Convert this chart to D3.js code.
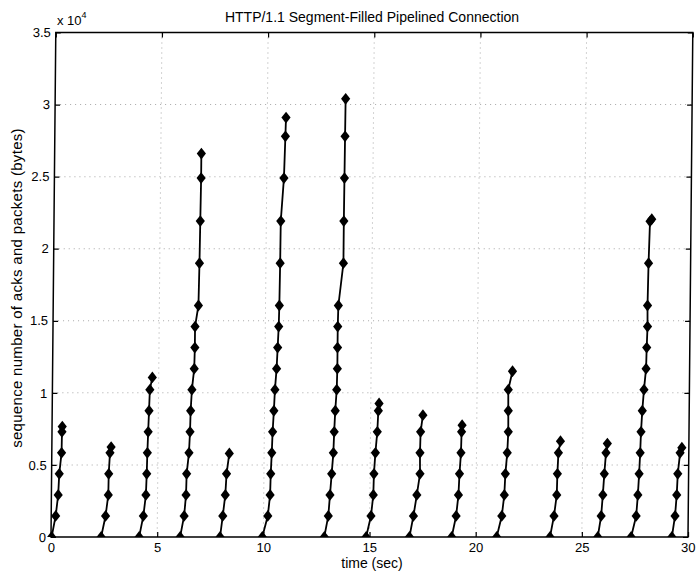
<!DOCTYPE html>
<html>
<head>
<meta charset="utf-8">
<script src="https://cdn.jsdelivr.net/npm/d3@7"></script>
<style>
  html, body { margin: 0; padding: 0; background: #fff; }
  svg { display: block; }
  text { font-family: "Liberation Sans", Arial, Helvetica, sans-serif; fill: #000; }
</style>
</head>
<body>
<svg id="chart" width="696" height="571"></svg>
<script>
// ---- data (time in seconds, sequence number in bytes), one entry per burst ----
const burstTimes = [
  [0.03, 0.21, 0.32, 0.36, 0.46, 0.47, 0.48],
  [2.36, 2.56, 2.68, 2.69, 2.74, 2.79],
  [4.15, 4.34, 4.45, 4.48, 4.50, 4.53, 4.56, 4.59, 4.70],
  [6.08, 6.26, 6.34, 6.36, 6.46, 6.50, 6.52, 6.57, 6.67, 6.69, 6.69, 6.84, 6.87, 6.89, 6.91, 6.91],
  [7.96, 8.08, 8.19, 8.24, 8.36],
  [9.95, 10.20, 10.30, 10.32, 10.36, 10.39, 10.44, 10.48, 10.55, 10.59, 10.63, 10.65, 10.67, 10.68, 10.81, 10.86, 10.88],
  [12.87, 13.05, 13.12, 13.19, 13.26, 13.29, 13.33, 13.39, 13.41, 13.41, 13.41, 13.43, 13.65, 13.65, 13.66, 13.67, 13.68],
  [14.84, 15.06, 15.16, 15.18, 15.24, 15.32, 15.36, 15.39],
  [16.88, 17.06, 17.21, 17.35, 17.34, 17.36, 17.46],
  [18.87, 19.07, 19.17, 19.21, 19.27, 19.29, 19.31],
  [20.99, 21.22, 21.33, 21.37, 21.45, 21.49, 21.48, 21.47, 21.66],
  [23.50, 23.68, 23.80, 23.82, 23.86, 23.95],
  [25.75, 25.90, 25.97, 26.03, 26.10, 26.16],
  [27.32, 27.55, 27.62, 27.67, 27.71, 27.74, 27.79, 27.86, 27.95, 27.97, 28.00, 27.99, 28.02, 28.07, 28.15],
  [29.24, 29.38, 29.45, 29.49, 29.59, 29.67]
];
const burstSeqs = [
  [0, 1460, 2920, 4380, 5840, 7300, 7660],
  [0, 1460, 2920, 4380, 5840, 6240],
  [0, 1460, 2920, 4380, 5840, 7300, 8760, 10220, 11070],
  [0, 1460, 2920, 4380, 5840, 7300, 8760, 10220, 11680, 13140, 14600, 16060, 19000, 21920, 24900, 26600],
  [0, 1460, 2920, 4380, 5800],
  [0, 1460, 2920, 4380, 5840, 7300, 8760, 10220, 11680, 13140, 14600, 16060, 19000, 21920, 24900, 27800, 29100],
  [0, 1460, 2920, 4380, 5840, 7300, 8760, 10220, 11680, 13140, 14600, 16060, 19000, 21920, 24900, 27800, 30400],
  [0, 1460, 2920, 4380, 5840, 7300, 8760, 9260],
  [0, 1460, 2920, 4380, 5840, 7300, 8450],
  [0, 1460, 2920, 4380, 5840, 7300, 7760],
  [0, 1460, 2920, 4380, 5840, 7300, 8760, 10220, 11500],
  [0, 1460, 2920, 4380, 5840, 6650],
  [0, 1460, 2920, 4380, 5840, 6480],
  [0, 1460, 2920, 4380, 5840, 7300, 8760, 10220, 11680, 13140, 14600, 16060, 19000, 21900, 22050],
  [0, 1460, 2920, 4380, 5840, 6200]
];
const xTicks = [0, 5, 10, 15, 20, 25, 30];
const xTickLabels = ["0", "5", "10", "15", "20", "25", "30"];
const yTicks = [0, 5000, 10000, 15000, 20000, 25000, 30000, 35000];
const yTickLabels = ["0", "0.5", "1", "1.5", "2", "2.5", "3", "3.5"];
const titleText = "HTTP/1.1 Segment-Filled Pipelined Connection";
const xLabelText = "time (sec)";
const yLabelText = "sequence number of acks and packets (bytes)";

// ---- layout ----
const plotLeft = 51, plotRight = 688, plotTop = 32.5, plotBottom = 537;
const x = d3.scaleLinear().domain([0, 30]).range([plotLeft, plotRight]);
const y = d3.scaleLinear().domain([0, 35000]).range([plotBottom, plotTop]);

const svg = d3.select("#chart");
svg.append("rect").attr("width", 696).attr("height", 571).attr("fill", "#fff");

// the scanned figure is slightly sheared: its top edge sits a few px to the right
const shear = -Math.atan(0.0095) * 180 / Math.PI;
const g = svg.append("g")
  .attr("transform", `translate(0,${plotBottom}) skewX(${shear}) translate(0,${-plotBottom})`);

svg.append("defs").append("clipPath").attr("id", "plotclip")
  .append("rect").attr("x", 0).attr("y", 0).attr("width", 696).attr("height", plotBottom);

// grid (dotted)
const grid = g.append("g").attr("stroke", "#555").attr("stroke-width", 1)
  .attr("stroke-dasharray", "1,4").attr("opacity", 0.5);
grid.selectAll("line.gx").data(xTicks.slice(1, -1)).join("line")
  .attr("x1", d => x(d)).attr("x2", d => x(d)).attr("y1", plotTop).attr("y2", plotBottom);
grid.selectAll("line.gy").data(yTicks.slice(1, -1)).join("line")
  .attr("x1", plotLeft).attr("x2", plotRight).attr("y1", d => y(d)).attr("y2", d => y(d));

// axes with inward ticks
const tickLen = 5;
const axB = g.append("g").attr("transform", `translate(0,${plotBottom})`)
  .call(d3.axisBottom(x).tickValues(xTicks).tickSize(-tickLen).tickPadding(6)
    .tickFormat((d, i) => xTickLabels[i]));
const axT = g.append("g").attr("transform", `translate(0,${plotTop})`)
  .call(d3.axisTop(x).tickValues(xTicks).tickSize(-tickLen).tickFormat(""));
const axL = g.append("g").attr("transform", `translate(${plotLeft},0)`)
  .call(d3.axisLeft(y).tickValues(yTicks).tickSize(-tickLen).tickPadding(5)
    .tickFormat((d, i) => yTickLabels[i]));
const axR = g.append("g").attr("transform", `translate(${plotRight},0)`)
  .call(d3.axisRight(y).tickValues(yTicks).tickSize(-tickLen).tickFormat(""));
[axB, axT, axL, axR].forEach(a => {
  a.select(".domain").remove();
  a.selectAll(".tick line").attr("stroke", "#000").attr("stroke-width", 1.2);
  a.selectAll(".tick text").style("font-size", "13px").attr("fill", "#000");
});
// box
g.append("rect").attr("x", plotLeft).attr("y", plotTop)
  .attr("width", plotRight - plotLeft).attr("height", plotBottom - plotTop)
  .attr("fill", "none").attr("stroke", "#000").attr("stroke-width", 1.5);

// bursts
const marks = g.append("g").attr("clip-path", "url(#plotclip)");
const line = d3.line().x(d => x(d[0])).y(d => y(d[1]));
const diamond = "M0,-5.9L4.6,0L0,5.9L-4.6,0Z";
burstTimes.forEach((ts, bi) => {
  const pts = ts.map((t, i) => [t, burstSeqs[bi][i]]);
  marks.append("path").datum(pts).attr("d", line)
    .attr("fill", "none").attr("stroke", "#000").attr("stroke-width", 1.8)
    .attr("stroke-linejoin", "round");
  marks.selectAll(null).data(pts).join("path")
    .attr("d", diamond)
    .attr("transform", d => `translate(${x(d[0])},${y(d[1])})`)
    .attr("fill", "#000");
});

// texts
svg.append("text").attr("x", 372).attr("y", 22).attr("text-anchor", "middle")
  .style("font-size", "14px").text(titleText);
svg.append("text").attr("x", 372).attr("y", 568).attr("text-anchor", "middle")
  .style("font-size", "14px").text(xLabelText);
svg.append("text").attr("transform", "translate(22,288) rotate(-90)")
  .attr("text-anchor", "middle").style("font-size", "15px")
  .style("letter-spacing", "0.3px").text(yLabelText);
const mult = svg.append("text").attr("x", 57).attr("y", 25).style("font-size", "13px");
mult.append("tspan").text("x 10");
mult.append("tspan").attr("dy", -7).style("font-size", "9px").text("4");
</script>
</body>
</html>
